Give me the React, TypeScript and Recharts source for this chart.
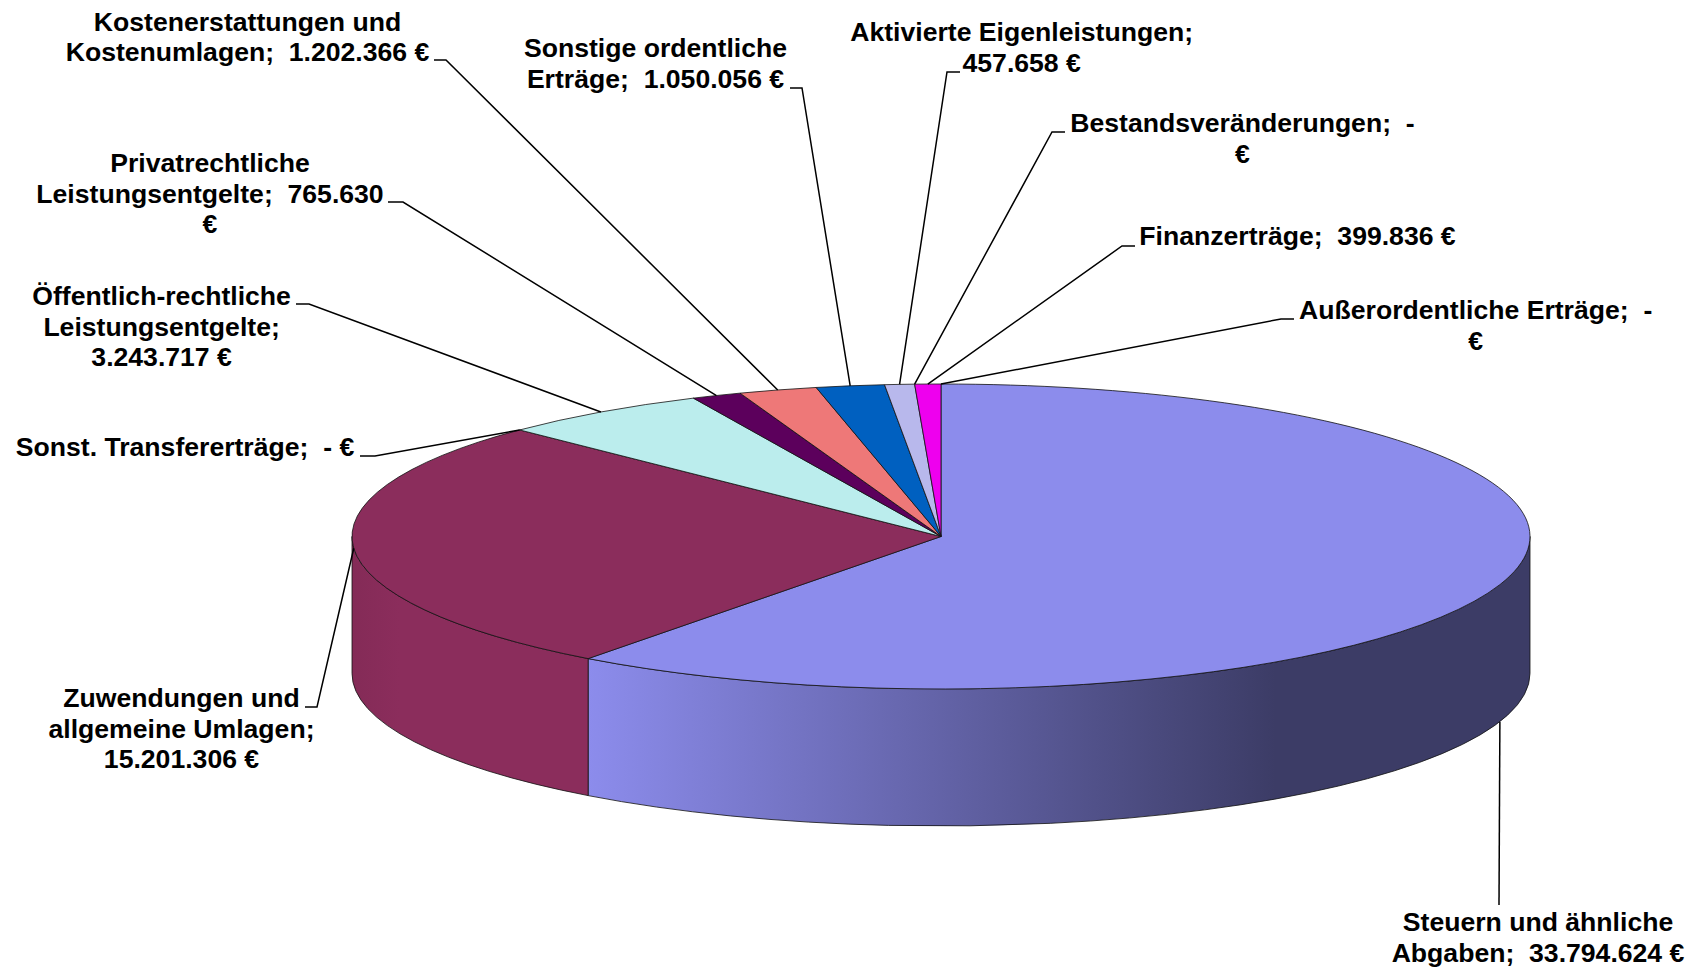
import React from "react";
import { PieChart, Pie } from "recharts";

const names = [
  "Steuern und ähnliche Abgaben",
  "Zuwendungen und allgemeine Umlagen",
  "Sonst. Transfererträge",
  "Öffentlich-rechtliche Leistungsentgelte",
  "Privatrechtliche Leistungsentgelte",
  "Kostenerstattungen und Kostenumlagen",
  "Sonstige ordentliche Erträge",
  "Aktivierte Eigenleistungen",
  "Bestandsveränderungen",
  "Finanzerträge",
  "Außerordentliche Erträge",
];
const values = [33794624, 15201306, 0, 3243717, 765630, 1202366, 1050056, 457658, 0, 399836, 0];
const topColors = ["#8c8cec", "#8b2d5c", "#8c8cec", "#bbeded", "#5c005c", "#ee7878", "#0060c0", "#b8b8ec", "#8c8cec", "#ee00ee", "#8c8cec"];

const labelLines = [
  ["Steuern und ähnliche", "Abgaben;  33.794.624 €"],
  ["Zuwendungen und", "allgemeine Umlagen;", "15.201.306 €"],
  ["Sonst. Transfererträge;  - €"],
  ["Öffentlich-rechtliche", "Leistungsentgelte;", "3.243.717 €"],
  ["Privatrechtliche", "Leistungsentgelte;  765.630", "€"],
  ["Kostenerstattungen und", "Kostenumlagen;  1.202.366 €"],
  ["Sonstige ordentliche", "Erträge;  1.050.056 €"],
  ["Aktivierte Eigenleistungen;", "457.658 €"],
  ["Bestandsveränderungen;  -", "€"],
  ["Finanzerträge;  399.836 €"],
  ["Außerordentliche Erträge;  -", "€"],
];

// label placement: text centre, first line centre, leader stub
const labelX = [1538, 181.5, 185, 161.6, 210, 247.5, 655.5, 1021.7, 1242.5, 1297.5, 1475.7];
const labelY = [922, 698, 447, 296, 163, 21.5, 48, 32, 123, 236, 310];
const stubs = [
  [1499, 1499, 905],
  [305, 317, 707],
  [360, 375, 456],
  [296, 309, 304],
  [388, 403, 202],
  [434, 446, 60],
  [790, 802, 88],
  [960, 947, 72],
  [1065, 1052, 132],
  [1135, 1122, 246],
  [1294, 1281, 319],
];

const data = names.map((name, i) => ({ name, value: values[i], fill: topColors[i] }));

const WIDTH = 1689;
const HEIGHT = 967;
const CX = 941;
const CY = 536.5;
const RX = 589;
const RY = 152.5;
const DEPTH = 137;
const SQUASH = RY / RX;
const FONT = "'Liberation Sans', Arial, sans-serif";
const FONT_SIZE = 26.6;
const LINE_HEIGHT = 30.5;

const pt = (deg: number, extra = 0) => {
  const a = (deg * Math.PI) / 180;
  return [CX + RX * Math.cos(a), CY - RY * Math.sin(a) + extra];
};

function TopSlice(props: any) {
  const { startAngle, endAngle, outerRadius, fill } = props;
  if (Math.abs(startAngle - endAngle) < 0.001) return null;
  const r = outerRadius;
  const [x1, y1] = pt(startAngle);
  const [x2, y2] = pt(endAngle);
  const large = Math.abs(startAngle - endAngle) > 180 ? 1 : 0;
  return (
    <path
      d={`M${CX},${CY} L${x1},${y1} A${r},${r * SQUASH} 0 ${large} 1 ${x2},${y2} Z`}
      fill={fill}
      stroke="#111"
      strokeWidth={0.8}
      strokeLinejoin="round"
    />
  );
}

function WallSlice(props: any) {
  const { startAngle, endAngle, outerRadius, index } = props;
  const a1 = Math.min(startAngle, 0);
  const a2 = Math.max(endAngle, -180);
  if (a1 <= a2) return null;
  const r = outerRadius;
  const ry = r * SQUASH;
  const [x1, y1] = pt(a1);
  const [x2, y2] = pt(a2);
  return (
    <path
      d={`M${x1},${y1} A${r},${ry} 0 0 1 ${x2},${y2} L${x2},${y2 + DEPTH} A${r},${ry} 0 0 0 ${x1},${y1 + DEPTH} Z`}
      fill={index === 0 ? "url(#blueWall)" : "url(#maroonWall)"}
      stroke="#111"
      strokeWidth={0.8}
    />
  );
}

function SliceLabel(props: any) {
  const { midAngle, index } = props;
  const [sx0, sx1, sy] = stubs[index];
  const [ax, ay] = pt(midAngle, index === 0 ? DEPTH : 0);
  return (
    <g>
      <polyline points={`${sx0},${sy} ${sx1},${sy} ${ax},${ay}`} fill="none" stroke="#000" strokeWidth={1.5} />
      {labelLines[index].map((line, i) => (
        <text
          key={i}
          x={labelX[index]}
          y={labelY[index] + i * LINE_HEIGHT + FONT_SIZE * 0.35}
          textAnchor="middle"
          fontFamily={FONT}
          fontSize={FONT_SIZE}
          fontWeight="bold"
          fill="#000"
          style={{ whiteSpace: "pre" }}
        >
          {line}
        </text>
      ))}
    </g>
  );
}

export default function App() {
  return (
    <div style={{ position: "absolute", left: 0, top: 0, width: WIDTH, height: HEIGHT, background: "#fff" }}>
      <PieChart width={WIDTH} height={HEIGHT} margin={{ top: 0, right: 0, bottom: 0, left: 0 }}>
        <defs>
          <linearGradient id="blueWall" gradientUnits="userSpaceOnUse" x1="588" y1="0" x2="1530" y2="0">
            <stop offset="0" stopColor="#8c8cec" />
            <stop offset="0.73" stopColor="#3c3c66" />
            <stop offset="1" stopColor="#3c3c66" />
          </linearGradient>
          <linearGradient id="maroonWall" gradientUnits="userSpaceOnUse" x1="352" y1="0" x2="588" y2="0">
            <stop offset="0" stopColor="#842b57" />
            <stop offset="0.2" stopColor="#8b2d5c" />
            <stop offset="1" stopColor="#8b2d5c" />
          </linearGradient>
        </defs>
        <Pie
          data={data}
          dataKey="value"
          cx={CX}
          cy={CY}
          outerRadius={RX}
          startAngle={90}
          endAngle={-270}
          stroke="none"
          shape={WallSlice}
          isAnimationActive={false}
        />
        <Pie
          data={data}
          dataKey="value"
          cx={CX}
          cy={CY}
          outerRadius={RX}
          startAngle={90}
          endAngle={-270}
          shape={TopSlice}
          label={SliceLabel}
          labelLine={false}
          isAnimationActive={false}
        />
      </PieChart>
    </div>
  );
}
